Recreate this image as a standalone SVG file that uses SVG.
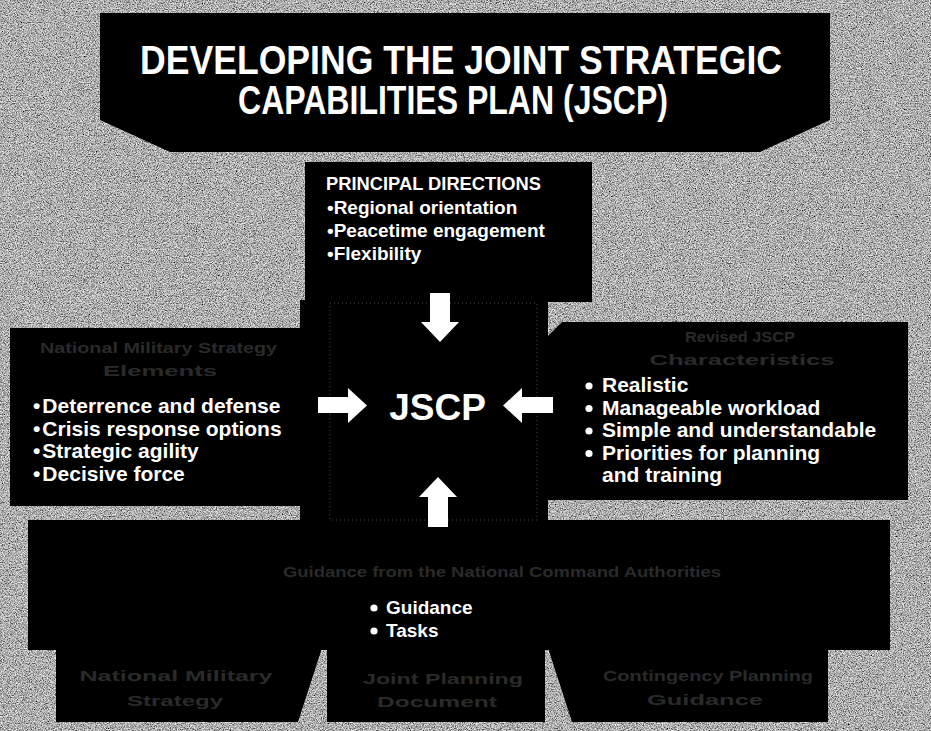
<svg xmlns="http://www.w3.org/2000/svg" width="931" height="731" viewBox="0 0 931 731">
<style>
.w{fill:#fff;font-family:"Liberation Sans",Arial,Helvetica,sans-serif;font-weight:bold}
.f{fill:#2a2a2a;font-family:"Liberation Sans",Arial,Helvetica,sans-serif;font-weight:bold;font-size:15px}
.blk{fill:#000}
.arrow{fill:#fff}
</style>
<defs>
<filter id="grain" filterUnits="userSpaceOnUse" x="0" y="0" width="931" height="731">
<feTurbulence type="fractalNoise" baseFrequency="0.85" numOctaves="2" seed="7" result="n"/>
<feColorMatrix in="n" type="matrix" values="1 0 0 0 0  1 0 0 0 0  1 0 0 0 0  0 0 0 0 1"/>
<feComponentTransfer>
<feFuncR type="discrete" tableValues="0 0.1 0.3 0.55 0.8 1"/>
<feFuncG type="discrete" tableValues="0 0.1 0.3 0.55 0.8 1"/>
<feFuncB type="discrete" tableValues="0 0.1 0.3 0.55 0.8 1"/>
</feComponentTransfer>
</filter>
<filter id="speck" filterUnits="userSpaceOnUse" x="0" y="0" width="931" height="731">
<feTurbulence type="fractalNoise" baseFrequency="0.9" numOctaves="1" seed="11"/>
<feColorMatrix type="matrix" values="0 0 0 0 1  0 0 0 0 1  0 0 0 0 1  1.6 0 0 0 -0.5"/>
<feComponentTransfer><feFuncA type="discrete" tableValues="0 0 0 0 0 0 0 0 0.75"/></feComponentTransfer>
</filter>
</defs>

<rect x="0" y="0" width="931" height="731" fill="#777" filter="url(#grain)"/>

<g id="title">
<polygon class="blk" points="100,13 830,13 830,120 760,152 170,152 100,120"/>
<text class="w" x="140" y="74" font-size="40" textLength="642" lengthAdjust="spacingAndGlyphs">DEVELOPING THE JOINT STRATEGIC</text>
<text class="w" x="238" y="114" font-size="40" textLength="430" lengthAdjust="spacingAndGlyphs">CAPABILITIES PLAN (JSCP)</text>
</g>

<g id="principal-directions">
<rect class="blk" x="305" y="162" width="287" height="140"/>
<text class="w" x="326" y="190" font-size="18" textLength="215" lengthAdjust="spacingAndGlyphs">PRINCIPAL DIRECTIONS</text>
<text class="w" x="327" y="214" font-size="19">•Regional orientation</text>
<text class="w" x="327" y="237" font-size="19">•Peacetime engagement</text>
<text class="w" x="327" y="260" font-size="19">•Flexibility</text>
</g>

<g id="strategic-elements">
<rect class="blk" x="10" y="328" width="295" height="178"/>
<text class="f" x="40" y="353" textLength="237" lengthAdjust="spacingAndGlyphs">National Military Strategy</text>
<text class="f" x="103" y="376" textLength="114" lengthAdjust="spacingAndGlyphs">Elements</text>
<text class="w" x="33" y="413" font-size="21">•<tspan dx="2">Deterrence and defense</tspan></text>
<text class="w" x="33" y="436" font-size="21">•<tspan dx="2">Crisis response options</tspan></text>
<text class="w" x="33" y="458" font-size="21">•<tspan dx="2">Strategic agility</tspan></text>
<text class="w" x="33" y="481" font-size="21">•<tspan dx="2">Decisive force</tspan></text>
</g>

<g id="jscp-characteristics">
<polygon class="blk" points="562,322 908,322 908,500 548,500 548,336"/>
<text class="f" x="740" y="342" text-anchor="middle" textLength="110" lengthAdjust="spacingAndGlyphs">Revised JSCP</text>
<text class="f" x="742" y="365" text-anchor="middle" textLength="185" lengthAdjust="spacingAndGlyphs">Characteristics</text>
<circle cx="589" cy="386" r="3.6" fill="#fff"/>
<circle cx="589" cy="408.5" r="3.6" fill="#fff"/>
<circle cx="589" cy="431" r="3.6" fill="#fff"/>
<circle cx="589" cy="453.5" r="3.6" fill="#fff"/>
<text class="w" x="602" y="392" font-size="21">Realistic</text>
<text class="w" x="602" y="414.5" font-size="21">Manageable workload</text>
<text class="w" x="602" y="437" font-size="21">Simple and understandable</text>
<text class="w" x="602" y="459.5" font-size="21">Priorities for planning</text>
<text class="w" x="602" y="482" font-size="21">and training</text>
</g>

<g id="guidance">
<rect class="blk" x="28" y="520" width="862" height="130"/>
<text class="f" x="283" y="577" textLength="438" lengthAdjust="spacingAndGlyphs">Guidance from the National Command Authorities</text>
<circle cx="374" cy="608" r="3.6" fill="#fff"/>
<circle cx="374" cy="631" r="3.6" fill="#fff"/>
<text class="w" x="386" y="614" font-size="19">Guidance</text>
<text class="w" x="386" y="637" font-size="19">Tasks</text>
</g>

<g id="jscp">
<rect class="blk" x="300" y="300" width="248" height="222"/>
<rect x="330" y="303" width="207" height="217" fill="#fff" filter="url(#speck)"/>
<rect x="330" y="303" width="207" height="217" fill="none" stroke="#444" stroke-width="1" stroke-dasharray="1 3"/>
<text class="w" x="437.5" y="420" font-size="37" text-anchor="middle">JSCP</text>
</g>

<g id="national-military-strategy">
<polygon class="blk" points="56,648 322,648 298,722 56,722"/>
<text class="f" x="176" y="681" text-anchor="middle" textLength="193" lengthAdjust="spacingAndGlyphs">National Military</text>
<text class="f" x="175" y="706" text-anchor="middle" textLength="96" lengthAdjust="spacingAndGlyphs">Strategy</text>
</g>

<g id="joint-planning-document">
<rect class="blk" x="327" y="648" width="218" height="74"/>
<text class="f" x="443" y="684" text-anchor="middle" textLength="160" lengthAdjust="spacingAndGlyphs">Joint Planning</text>
<text class="f" x="437" y="707" text-anchor="middle" textLength="120" lengthAdjust="spacingAndGlyphs">Document</text>
</g>

<g id="contingency-planning-guidance">
<polygon class="blk" points="548,648 828,648 828,722 572,722"/>
<text class="f" x="708" y="681" text-anchor="middle" textLength="210" lengthAdjust="spacingAndGlyphs">Contingency Planning</text>
<text class="f" x="705" y="705" text-anchor="middle" textLength="116" lengthAdjust="spacingAndGlyphs">Guidance</text>
</g>

<g id="connectors">
<polygon class="arrow" points="430,293 450,293 450,322 459,322 440,342 421,322 430,322"/>
<polygon class="arrow" points="318,397 348,397 348,388 367,405.5 348,423 348,413 318,413"/>
<polygon class="arrow" points="553,397 522,397 522,388 503,405.5 522,423 522,413 553,413"/>
<polygon class="arrow" points="428,527 448,527 448,497 457,497 438,477 419,497 428,497"/>
</g>
</svg>
